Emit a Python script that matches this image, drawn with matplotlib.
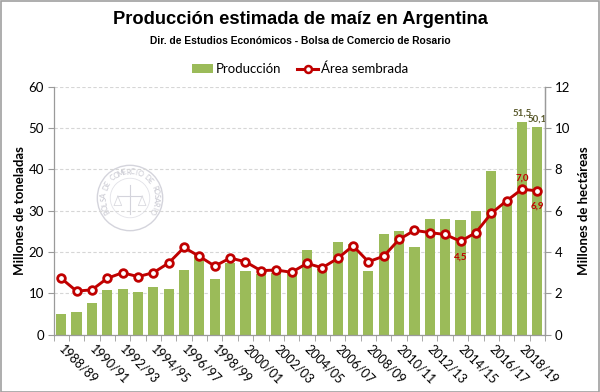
import numpy as np
import matplotlib
matplotlib.use("Agg")
import matplotlib.pyplot as plt
from matplotlib.patches import Rectangle, Circle
from matplotlib.lines import Line2D
from matplotlib.patches import Patch

campanias = ["1988/89", "1989/90", "1990/91", "1991/92", "1992/93", "1993/94",
             "1994/95", "1995/96", "1996/97", "1997/98", "1998/99", "1999/00",
             "2000/01", "2001/02", "2002/03", "2003/04", "2004/05", "2005/06",
             "2006/07", "2007/08", "2008/09", "2009/10", "2010/11", "2011/12",
             "2012/13", "2013/14", "2014/15", "2015/16", "2016/17", "2017/18",
             "2018/19", "2019/20"]
produccion = [4.9, 5.4, 7.7, 10.7, 11.0, 10.4, 11.4, 11.1, 15.5, 19.4, 13.5, 17.2,
              15.4, 14.7, 15.0, 14.9, 20.4, 15.8, 22.3, 22.0, 15.4, 24.3, 25.1, 21.1,
              27.9, 27.9, 27.6, 30.0, 39.6, 32.0, 51.5, 50.1]
area = [2.72, 2.10, 2.16, 2.72, 2.99, 2.80, 2.99, 3.46, 4.21, 3.78, 3.31, 3.70,
        3.52, 3.09, 3.12, 3.01, 3.44, 3.23, 3.68, 4.29, 3.52, 3.79, 4.60, 5.04,
        4.93, 4.84, 4.51, 4.93, 5.86, 6.47, 7.03, 6.95]
prod_labels = {30: "51,5", 31: "50,1"}
area_labels = {26: ("4,5", "below"), 30: ("7,0", "above"), 31: ("6,9", "below")}

W, H = 600, 392
fig = plt.figure(figsize=(W / 100, H / 100), dpi=100)
fig.patch.set_facecolor("white")

narrow = ["Liberation Sans Narrow", "Liberation Sans", "DejaVu Sans"]
body = ["Lato", "DejaVu Sans"]

# border
fig.patches.append(Rectangle((0.5 / W, 0.5 / H), 1 - 1.5 / W, 1 - 1.5 / H,
                             transform=fig.transFigure, fill=False,
                             edgecolor="#a0a0a0", lw=1.2))

left, right = 53.5 / W, 545 / W
bottom, top = (H - 334.5) / H, (H - 86.5) / H
ax = fig.add_axes([left, bottom, right - left, top - bottom])

# seal watermark
sx, sy, sr = 130, 198, 38
sax = fig.add_axes([(sx - sr) / W, (H - sy - sr) / H, 2 * sr / W, 2 * sr / H], zorder=0.5)
sax.set_xlim(-1, 1); sax.set_ylim(-1, 1); sax.axis("off")
sax.patch.set_alpha(0)
sax.add_patch(Circle((0, 0), 0.86, fill=False, ec="#d4d4dc", lw=1.0))
sax.add_patch(Circle((0, 0), 0.52, fill=False, ec="#e2e2e8", lw=0.6))
txt = "BOLSA DE COMERCIO DE ROSARIO"
angs = np.linspace(210, -30, len(txt))
for ch, a in zip(txt, angs):
    r = 0.69
    sax.text(r * np.cos(np.radians(a)), r * np.sin(np.radians(a)), ch,
             rotation=a - 90, ha="center", va="center", fontsize=5.2,
             color="#c4c4ce", family=body)
sax.plot([-0.32, 0.32], [0.05, 0.05], color="#d4d4dc", lw=0.8)
sax.plot([0, 0], [-0.42, 0.35], color="#d4d4dc", lw=0.8)
sax.plot([-0.32, -0.42, -0.22, -0.32], [0.05, -0.2, -0.2, 0.05], color="#dadae0", lw=0.6)
sax.plot([0.32, 0.42, 0.22, 0.32], [0.05, -0.2, -0.2, 0.05], color="#dadae0", lw=0.6)

x = np.arange(len(campanias))
ax.bar(x, produccion, width=0.66, color="#9BBB59", zorder=2)
ax.set_xlim(-0.5, len(campanias) - 0.5)
ax.set_ylim(0, 60)
ax.set_yticks(np.arange(0, 61, 10))
ax.yaxis.grid(True, color="#d6d6d6", lw=0.8, ls=(0, (3, 2)), zorder=0)
ax.set_axisbelow(True)
ax.patch.set_alpha(0)
ax.set_zorder(1)

ax.spines["top"].set_visible(False)
for s in ["left", "bottom", "right"]:
    ax.spines[s].set_color("#9a9a9a")
    ax.spines[s].set_linewidth(0.9)

ax.set_xticks(x[::2])
ax.set_xticklabels(campanias[::2], rotation=-45, ha="left", va="center",
                   rotation_mode="anchor", fontsize=9, family=body)
ax.set_xticks(np.arange(-0.5, len(campanias), 1), minor=True)
ax.tick_params(axis="x", which="major", length=0, pad=9)
ax.tick_params(axis="x", which="minor", length=4, color="#9a9a9a")
ax.tick_params(axis="y", length=4, color="#9a9a9a", labelsize=9.5, pad=3)
for t in ax.get_yticklabels():
    t.set_family(body)
ax.set_ylabel("Millones de toneladas", fontsize=9.5, fontweight="bold",
              family=body, labelpad=2)

for i, lab in prod_labels.items():
    ax.annotate(lab, (x[i], produccion[i]), xytext=(0, 3), textcoords="offset points",
                ha="center", va="bottom", fontsize=7, fontweight="bold",
                color="#5B5B2E", family=body)

ax2 = ax.twinx()
ax2.set_ylim(0, 12)
ax2.set_yticks(np.arange(0, 13, 2))
ax2.plot(x, area, color="#C00000", lw=2.1, marker="o", ms=5.5, mfc="white",
         mec="#C00000", mew=2.0, zorder=3)
for s in ["top", "left", "bottom"]:
    ax2.spines[s].set_visible(False)
ax2.spines["right"].set_color("#9a9a9a")
ax2.spines["right"].set_linewidth(0.9)
ax2.tick_params(axis="y", length=4, color="#9a9a9a", labelsize=9.5, pad=3)
for t in ax2.get_yticklabels():
    t.set_family(body)
ax2.set_ylabel("Millones de hectáreas", fontsize=9.5, fontweight="bold",
               family=body, labelpad=6)
for i, (lab, pos) in area_labels.items():
    dy = 5 if pos == "above" else -8
    ax2.annotate(lab, (x[i], area[i]), xytext=(0, dy), textcoords="offset points",
                 ha="center", va="bottom" if pos == "above" else "top",
                 fontsize=7, fontweight="bold", color="#C00000", family=body)

fig.text(0.5, 1 - 20 / H, "Producción estimada de maíz en Argentina", ha="center",
         va="center", fontsize=13.2, fontweight="bold", family=narrow)
fig.text(0.5, 1 - 41 / H, "Dir. de Estudios Económicos - Bolsa de Comercio de Rosario",
         ha="center", va="center", fontsize=7.4, fontweight="bold", family=narrow)

handles = [Patch(facecolor="#9BBB59", edgecolor="none"),
           Line2D([0], [0], color="#C00000", lw=2.2, marker="o", ms=5, mfc="white",
                  mec="#C00000", mew=1.8)]
fig.legend(handles, ["Producción", "Área sembrada"], loc="center",
           bbox_to_anchor=(0.5, 1 - 69 / H), ncol=2, frameon=False,
           prop={"family": body, "size": 9.5}, handlelength=1.6, handletextpad=0.2,
           columnspacing=1.2, handleheight=0.7)

fig.savefig("out.png", dpi=100)
